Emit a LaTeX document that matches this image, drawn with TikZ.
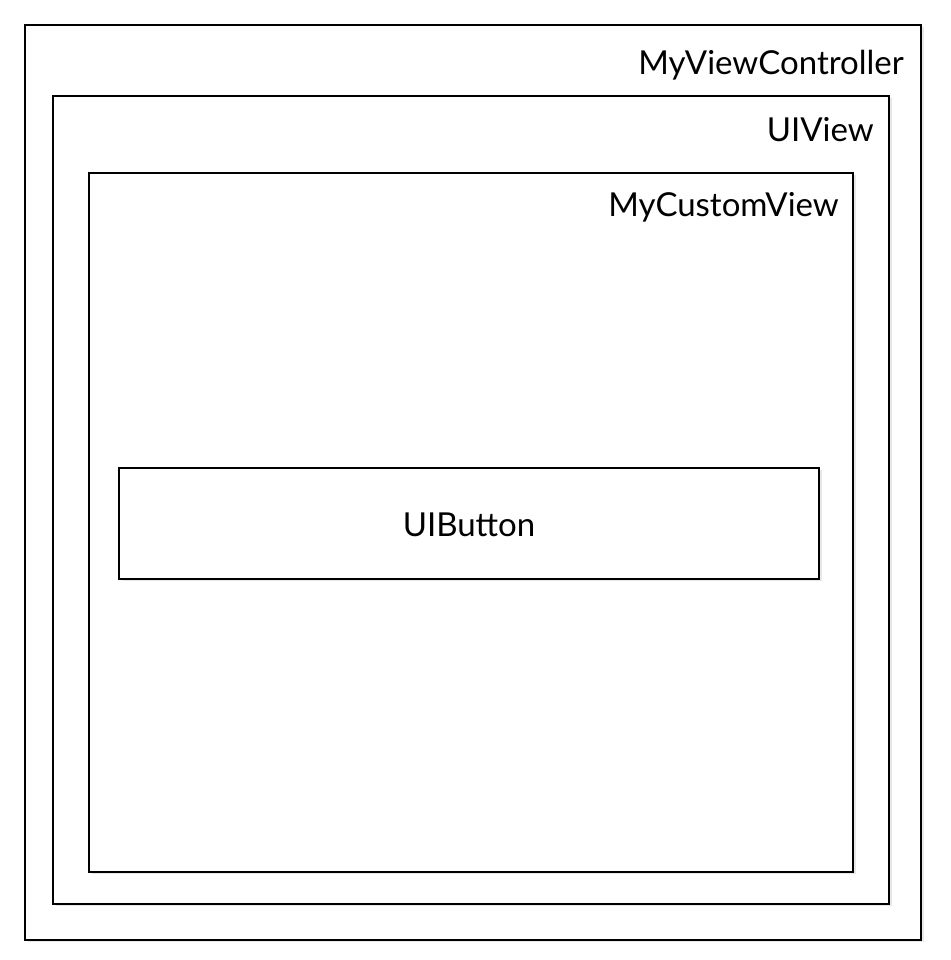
\documentclass[tikz,border=0pt]{standalone}
\usepackage{fontspec}
\setmainfont{Lato}
\usepackage{tikz}
\usetikzlibrary{shadows}

\tikzset{
  viewbox/.style={draw, line width=1.6pt, fill=white, inner sep=0pt, outer sep=0pt,
    drop shadow={shadow xshift=2.5pt, shadow yshift=-2.5pt, fill=black!18}},
  viewname/.style={inner sep=0pt, font=\fontsize{33}{38}\selectfont}
}

\begin{document}
\begin{tikzpicture}[x=1pt, y=1pt]
  \useasboundingbox (0,0) rectangle (950,960);
  \node[viewbox, minimum width=896pt, minimum height=915pt] (vc) at (473,477.5) {};
  \node[viewbox, minimum width=836pt, minimum height=808pt] (uiview) at (471,460) {};
  \node[viewbox, minimum width=764pt, minimum height=699pt] (custom) at (471,437.5) {};
  \node[viewbox, minimum width=700pt, minimum height=111pt] (button) at (469,436.5) {};
  \node[viewname, anchor=base east] (vclabel) at (904,885) {MyViewController};
  \node[viewname, anchor=base east] (uiviewlabel) at (874,818) {UIView};
  \node[viewname, anchor=base east] (customlabel) at (839,743) {MyCustomView};
  \node[viewname, anchor=base] (buttonlabel) at (469,423) {UIButton};
\end{tikzpicture}
\end{document}
